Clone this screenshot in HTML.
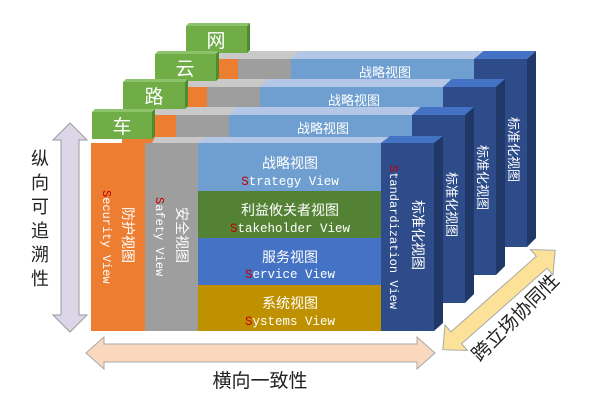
<!DOCTYPE html>
<html><head><meta charset="utf-8"><style>
html,body{margin:0;padding:0;background:#fff;width:600px;height:404px;overflow:hidden}
svg{display:block}
.cj{font-family:"Liberation Sans","Noto Sans CJK SC",sans-serif}
.mo{font-family:"Liberation Mono","DejaVu Sans Mono",monospace}
</style></head><body>
<svg width="600" height="404" viewBox="0 0 600 404" xmlns="http://www.w3.org/2000/svg">
<defs>
<g id="layer">
  <polygon points="91,143 381,143 389,135 99,135" fill="#C9C9C9"/>
  <polygon points="198,143 381,143 389,135 206,135" fill="#B4C7E7"/>
  <rect x="91" y="143" width="54" height="188" fill="#ED7D31"/>
  <rect x="145" y="143" width="53" height="188" fill="#9E9E9E"/>
  <rect x="198" y="143" width="183" height="188" fill="#6F9FD0"/>
  <polygon points="381,143 434,143 443,135 390,135" fill="#4472C4"/>
  <polygon points="434,143 443,135 443,322 434,331" fill="#1F3868"/>
  <rect x="381" y="143" width="53" height="188" fill="#2E4C8A"/>
</g>
</defs>

<g transform="translate(93,-84)"><use href="#layer"/></g>
<g transform="translate(62,-56)"><use href="#layer"/></g>
<text x="385" y="77" class="cj" font-size="13" fill="#fff" text-anchor="middle">战略视图</text>
<text x="478" y="145" class="cj" font-size="13" fill="#fff" transform="rotate(90 478 145)">标准化视图</text>
<g transform="translate(31,-28)"><use href="#layer"/></g>
<text x="354" y="105" class="cj" font-size="13" fill="#fff" text-anchor="middle">战略视图</text>
<text x="447" y="172" class="cj" font-size="13" fill="#fff" transform="rotate(90 447 172)">标准化视图</text>
<text x="323" y="133" class="cj" font-size="13" fill="#fff" text-anchor="middle">战略视图</text>
<text x="509" y="117" class="cj" font-size="13" fill="#fff" transform="rotate(90 509 117)">标准化视图</text>

<g>
  <polygon points="186,26 247,26 250,23 189,23" fill="#8DC36A"/><polygon points="247,26 250,23 250,50 247,53" fill="#4F8A2E"/>
  <rect x="186" y="26" width="61" height="27" fill="#70AD47"/>
  <text x="216" y="47" class="cj" font-size="19" fill="#fff" text-anchor="middle">网</text>
  <polygon points="155,54 216,54 219,51 158,51" fill="#8DC36A"/><polygon points="216,54 219,51 219,78 216,81" fill="#4F8A2E"/>
  <rect x="155" y="54" width="61" height="27" fill="#70AD47"/>
  <text x="185" y="75" class="cj" font-size="19" fill="#fff" text-anchor="middle">云</text>
  <polygon points="123,82 185,82 188,79 126,79" fill="#8DC36A"/><polygon points="185,82 188,79 188,106 185,109" fill="#4F8A2E"/>
  <rect x="123" y="82" width="62" height="27" fill="#70AD47"/>
  <text x="154" y="103" class="cj" font-size="19" fill="#fff" text-anchor="middle">路</text>
  <polygon points="92,112 152,112 155,109 95,109" fill="#8DC36A"/><polygon points="152,112 155,109 155,136 152,139" fill="#4F8A2E"/>
  <rect x="92" y="112" width="60" height="27" fill="#70AD47"/>
  <text x="122" y="133" class="cj" font-size="19" fill="#fff" text-anchor="middle">车</text>
</g>

<polygon points="152,143 381,143 389,137 155,137" fill="#C9C9C9"/>
<polygon points="198,143 381,143 389,137 206,137" fill="#B4C7E7"/>
<rect x="91" y="143" width="54" height="188" fill="#ED7D31"/>
<rect x="145" y="143" width="53" height="188" fill="#9E9E9E"/>
<rect x="198" y="143" width="183" height="48" fill="#6F9FD0"/>
<rect x="198" y="191" width="183" height="47" fill="#548235"/>
<rect x="198" y="238" width="183" height="47" fill="#4472C4"/>
<rect x="198" y="285" width="183" height="46" fill="#BF9000"/>
<polygon points="381,143 434,143 443,136 390,136" fill="#4472C4"/>
<polygon points="434,143 443,136 443,323 434,331" fill="#1F3868"/>
<rect x="381" y="143" width="53" height="188" fill="#2E4C8A"/>

<g fill="#fff">
<text x="290" y="168" class="cj" font-size="14" text-anchor="middle">战略视图</text>
<text x="290" y="185" class="mo" font-size="12.5" text-anchor="middle"><tspan fill="#C00000">S</tspan>trategy View</text>
<text x="290" y="215" class="cj" font-size="14" text-anchor="middle">利益攸关者视图</text>
<text x="290" y="232" class="mo" font-size="12.5" text-anchor="middle"><tspan fill="#C00000">S</tspan>takeholder View</text>
<text x="290" y="262" class="cj" font-size="14" text-anchor="middle">服务视图</text>
<text x="290" y="278" class="mo" font-size="12.5" text-anchor="middle"><tspan fill="#C00000">S</tspan>ervice View</text>
<text x="290" y="308" class="cj" font-size="14" text-anchor="middle">系统视图</text>
<text x="290" y="325" class="mo" font-size="12.5" text-anchor="middle"><tspan fill="#C00000">S</tspan>ystems View</text>

<text x="103" y="190" class="mo" font-size="12" transform="rotate(90 103 190)"><tspan fill="#C00000">S</tspan>ecurity View</text>
<text x="123" y="207" class="cj" font-size="14" transform="rotate(90 123 207)">防护视图</text>
<text x="156" y="197" class="mo" font-size="12" transform="rotate(90 156 197)"><tspan fill="#C00000">S</tspan>afety View</text>
<text x="177" y="207" class="cj" font-size="14" transform="rotate(90 177 207)">安全视图</text>
<text x="390" y="165" class="mo" font-size="12" transform="rotate(90 390 165)"><tspan fill="#C00000">S</tspan>tandardization View</text>
<text x="413" y="200" class="cj" font-size="14" transform="rotate(90 413 200)">标准化视图</text>
</g>

<polygon points="70,123 87,140 79,140 79,315 87,315 70,332 53,315 61,315 61,140 53,140" fill="#DCD6E8" stroke="#9A9A9A" stroke-width="1"/>
<text class="cj" font-size="18" fill="#222" text-anchor="middle">
<tspan x="40" y="165">纵</tspan><tspan x="40" y="189">向</tspan><tspan x="40" y="213">可</tspan><tspan x="40" y="237">追</tspan><tspan x="40" y="261">溯</tspan><tspan x="40" y="285">性</tspan></text>

<polygon points="86,353 104,337 104,344 417,344 417,337 435,353 417,369 417,362 104,362 104,369" fill="#FAD8BE" stroke="#A8A8A8" stroke-width="1"/>
<text x="260" y="387" class="cj" font-size="19" fill="#222" text-anchor="middle">横向一致性</text>

<g transform="translate(499,300) rotate(-41.5)">
<polygon points="-75,0 -57,-17 -57,-8 57,-8 57,-17 75,0 57,17 57,8 -57,8 -57,17" fill="#FCE199" stroke="#A8A8A8" stroke-width="1"/>
</g>
<text x="520" y="322" class="cj" font-size="19" fill="#222" text-anchor="middle" transform="rotate(-45 520 322)">跨立场协同性</text>
</svg>
</body></html>
